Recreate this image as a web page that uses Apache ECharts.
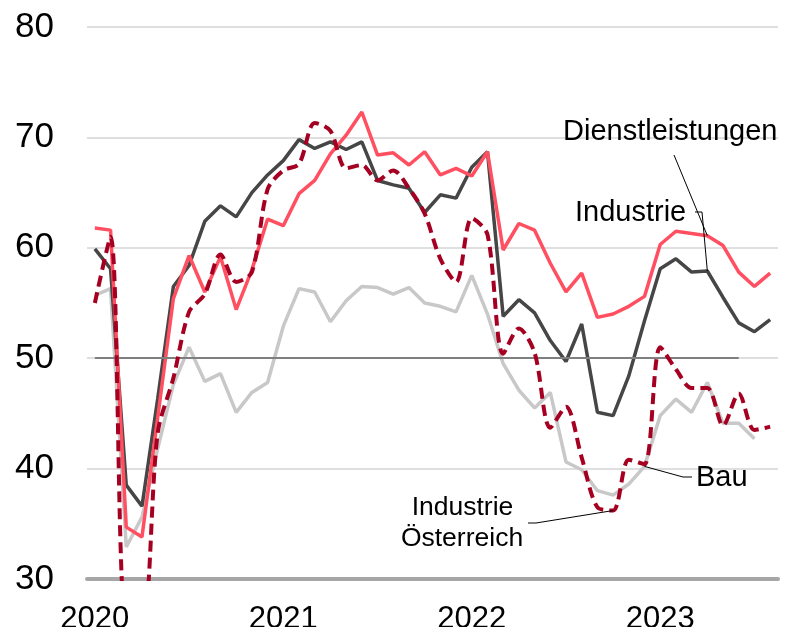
<!DOCTYPE html>
<html>
<head>
<meta charset="utf-8">
<script src="https://cdn.jsdelivr.net/npm/echarts@6/dist/echarts.min.js"></script>
<style>
html,body{margin:0;padding:0;background:#fff;}
#c{width:788px;height:627px;}
</style>
</head>
<body>
<div id="c"></div>
<script>
// Monthly categories Jan 2020 .. Aug 2023
const months = [
 '2020-01','2020-02','2020-03','2020-04','2020-05','2020-06','2020-07','2020-08','2020-09','2020-10','2020-11','2020-12',
 '2021-01','2021-02','2021-03','2021-04','2021-05','2021-06','2021-07','2021-08','2021-09','2021-10','2021-11','2021-12',
 '2022-01','2022-02','2022-03','2022-04','2022-05','2022-06','2022-07','2022-08','2022-09','2022-10','2022-11','2022-12',
 '2023-01','2023-02','2023-03','2023-04','2023-05','2023-06','2023-07','2023-08'
];
const yearLabels = ['2020','2021','2022','2023'];
const yTicks = [30, 40, 50, 60, 70, 80];

const industrie = [59.9,58.1,38.5,36.6,46.3,56.5,58.4,62.4,63.8,62.8,65.0,66.6,
 67.9,69.8,69.0,69.6,68.9,69.6,66.1,65.7,65.4,63.2,64.8,64.5,
 67.3,68.7,53.8,55.3,54.1,51.6,49.7,53.1,45.1,44.8,48.4,53.4,
 58.1,59.0,57.8,57.9,55.5,53.2,52.4,53.5];
const dienstleistungen = [61.8,61.6,34.7,33.8,44.6,55.4,59.3,56.0,59.2,54.4,58.0,62.6,
 62.0,64.9,66.1,68.5,70.2,72.3,68.4,68.6,67.5,68.7,66.6,67.2,
 66.5,68.7,59.8,62.2,61.6,58.6,56.0,57.7,53.7,54.0,54.7,55.6,
 60.3,61.5,61.3,61.1,60.2,57.8,56.5,57.7];
const bau = [55.7,56.3,32.9,35.6,41.8,47.6,51.0,47.9,48.6,45.1,46.9,47.8,
 52.9,56.3,56.0,53.3,55.2,56.5,56.4,55.8,56.4,55.0,54.7,54.2,
 57.5,54.0,49.5,47.1,45.5,46.9,40.6,39.9,38.0,37.6,38.6,40.2,
 44.8,46.3,45.1,47.8,44.1,44.1,42.7,null];
const industrieAT = [55.0,61.0,26.0,26.0,43.2,48.2,54.2,55.8,59.4,56.9,57.8,65.3,
 67.0,67.6,71.3,70.6,67.2,67.5,66.1,67.0,65.4,63.1,59.0,56.9,
 62.7,61.2,50.4,52.7,50.5,43.7,45.6,41.0,36.5,36.2,40.8,40.4,
 51.0,49.0,47.3,47.3,43.9,46.8,43.5,43.8];
const thresholdValue = 50;
const thresholdStart = '2020-01';
const thresholdEnd = '2023-06';

const FONT = '"Liberation Sans", Arial, sans-serif';
const chart = echarts.init(document.getElementById('c'), null, {renderer: 'canvas'});

chart.setOption({
  animation: false,
  backgroundColor: '#ffffff',
  grid: {left: 87, right: 10, top: 27, bottom: 48, containLabel: false, outerBoundsMode: 'none'},
  xAxis: {
    type: 'category',
    data: months,
    boundaryGap: true,
    axisLine: {show: true, lineStyle: {color: '#a6a6a6', width: 4}},
    axisTick: {show: false},
    axisLabel: {
      interval: function (idx) { return idx % 12 === 0; },
      formatter: function (v, idx) { return yearLabels[Math.floor(idx / 12)]; },
      color: '#000', fontSize: 31, fontFamily: FONT, margin: 25
    },
    splitLine: {show: false}
  },
  yAxis: {
    type: 'value',
    min: yTicks[0], max: yTicks[yTicks.length - 1], interval: 10,
    axisLine: {show: false},
    axisTick: {show: false},
    axisLabel: {color: '#000', fontSize: 35, fontFamily: FONT, margin: 33},
    splitLine: {show: true, lineStyle: {color: '#d4d4d4', width: 1.5}}
  },
  series: [
    {
      name: 'Bau', type: 'line', data: bau, symbol: 'none',
      lineStyle: {color: '#c8c8c8', width: 3.5}, z: 2,
      markLine: {
        silent: true, symbol: 'none', label: {show: false},
        lineStyle: {color: '#7f7f7f', width: 2.2, type: 'solid'},
        data: [[{coord: [thresholdStart, thresholdValue]}, {coord: [thresholdEnd, thresholdValue]}]]
      }
    },
    {
      name: 'Industrie', type: 'line', data: industrie, symbol: 'none',
      lineStyle: {color: '#464646', width: 3.5}, z: 3
    },
    {
      name: 'Dienstleistungen', type: 'line', data: dienstleistungen, symbol: 'none',
      lineStyle: {color: '#ff4f60', width: 3.5}, z: 4
    },
    {
      name: 'Industrie Österreich', type: 'line', data: industrieAT, symbol: 'none',
      smooth: 0.3, clip: true,
      lineStyle: {color: '#a50021', width: 4, type: [11, 6]}, z: 5
    }
  ]
});

function px(seriesIndex, idx, val) {
  return chart.convertToPixel({seriesIndex: seriesIndex}, [idx, val]);
}
const pD = px(2, 39, dienstleistungen[39]);
const pI = px(1, 39, industrie[39]);
const pB = px(0, 35, bau[35]);
const pA = px(3, 33, industrieAT[33]);

const txt = {fill: '#000', fontSize: 29, fontFamily: FONT, verticalAlign: 'middle'};
const txtSmall = {fill: '#000', fontSize: 26.5, fontFamily: FONT, verticalAlign: 'middle', align: 'center'};
const lead = {stroke: '#000', lineWidth: 1, fill: null};
chart.setOption({
  graphic: [
    {type: 'text', x: 563, y: 132, style: Object.assign({text: 'Dienstleistungen'}, txt), z: 100},
    {type: 'polyline', shape: {points: [[674, 155], [pD[0], pD[1]]]}, style: lead, z: 100},
    {type: 'text', x: 575, y: 212.5, style: Object.assign({text: 'Industrie'}, txt), z: 100},
    {type: 'polyline', shape: {points: [[695, 212], [702, 212], [pI[0], pI[1]]]}, style: lead, z: 100},
    {type: 'text', x: 696, y: 477.5, style: Object.assign({text: 'Bau'}, txt), z: 100},
    {type: 'polyline', shape: {points: [[pB[0], pB[1]], [683, 477], [692, 477]]}, style: lead, z: 100},
    {type: 'text', x: 462.5, y: 507.5, style: Object.assign({text: 'Industrie'}, txtSmall), z: 100},
    {type: 'text', x: 462, y: 538.5, style: Object.assign({text: 'Österreich'}, txtSmall), z: 100},
    {type: 'polyline', shape: {points: [[528, 523], [536, 523], [pA[0], pA[1]]]}, style: lead, z: 100}
  ]
});
</script>
</body>
</html>
